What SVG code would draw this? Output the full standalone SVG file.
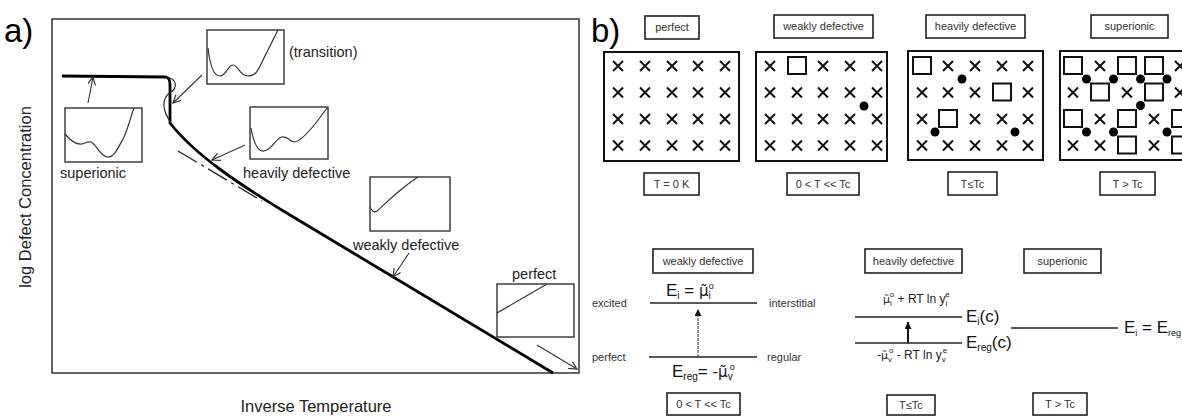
<svg xmlns="http://www.w3.org/2000/svg" xmlns:xlink="http://www.w3.org/1999/xlink" width="1182" height="416" viewBox="0 0 1182 416">
<style>
text{font-family:"Liberation Sans",Arial,sans-serif;fill:#222}
.big{font-size:33px;fill:#000}
.lab{font-size:14.5px}
.axis{font-size:16.5px}
.box{fill:none;stroke:#222;stroke-width:1.6}
.grid{fill:none;stroke:#111;stroke-width:2}
.inset{fill:none;stroke:#333;stroke-width:1.4}
.icurve{fill:none;stroke:#333;stroke-width:1.2}
.tag{font-size:11px;fill:#333;text-anchor:middle}
.small{font-size:11px;fill:#333}
.lvl{stroke:#222;stroke-width:1.5}
.math{font-size:17px;fill:#111}
.mth{font-size:12px;fill:#222}
.mu{font-family:"DejaVu Sans",sans-serif}
.arr{fill:none;stroke:#333;stroke-width:1.1}
</style>
<defs>
<marker id="vh" markerWidth="10" markerHeight="10" refX="8" refY="4" orient="auto" markerUnits="userSpaceOnUse">
<path d="M0,0 L8,4 L0,8" fill="none" stroke="#333" stroke-width="1.2"/>
</marker>
<marker id="th" markerWidth="10" markerHeight="10" refX="7" refY="3.5" orient="auto" markerUnits="userSpaceOnUse">
<path d="M0,0 L7,3.5 L0,7 z" fill="#111"/>
</marker>
<path id="x" d="M-5,-5 L5,5 M5,-5 L-5,5" stroke="#111" stroke-width="2" fill="none"/>
<rect id="sq" x="-9" y="-8.5" width="18" height="17" fill="none" stroke="#111" stroke-width="2"/>
<circle id="dot" r="4.5" fill="#000"/>
</defs>
<rect width="1182" height="416" fill="#fff"/>

<g id="panel-a">
<text class="big" x="4" y="42">a)</text>
<rect x="52" y="19" width="527" height="354" fill="none" stroke="#333" stroke-width="1.5"/>
<text class="axis" transform="translate(31,197) rotate(-90)" text-anchor="middle">log Defect Concentration</text>
<text class="axis" x="316" y="412" text-anchor="middle">Inverse Temperature</text>
<path d="M62,76 L166,77 Q170,78 170,85 L170,123 C195,155 240,185 290,215 L553,373" fill="none" stroke="#000" stroke-width="2.8"/>
<path d="M166,77 C178,79 177,88 171,92 C161,98 162,110 171,123" fill="none" stroke="#222" stroke-width="1.1"/>
<path d="M178,151 L262,201" fill="none" stroke="#222" stroke-width="1.3" stroke-dasharray="22,5,3,5"/>
</g>

<g id="inset-superionic">
<rect class="inset" x="65" y="108" width="77" height="54"/>
<path class="icurve" d="M65,134 C70,140 76,145 82,144 C86,143 88,141 91,142 C96,144 100,156 107,157 C114,158 118,148 124,137 C128,128 131,116 134,108"/>
<text class="lab" x="60" y="178">superionic</text>
</g>
<g id="inset-transition">
<rect class="inset" x="207" y="30" width="77" height="54"/>
<path class="icurve" d="M208,48 C210,66 214,76 220,76 C226,76 228,65 233,65 C238,65 240,76 248,76 C256,76 258,70 262,62 C268,50 273,40 278,30"/>
<text class="lab" x="289" y="57">(transition)</text>
</g>
<g id="inset-heavily">
<rect class="inset" x="250" y="107" width="78" height="52"/>
<path class="icurve" d="M251,128 C254,145 258,152 264,151 C272,150 276,138 282,137 C288,136 290,142 294,142 C302,142 315,125 327,108"/>
<text class="lab" x="243" y="178">heavily defective</text>
</g>
<g id="inset-weakly">
<rect class="inset" x="370" y="177" width="80" height="54"/>
<path class="icurve" d="M370,207 C372,211 374,213 377,211 C385,204 398,190 418,177"/>
<text class="lab" x="353" y="250">weakly defective</text>
</g>
<g id="inset-perfect">
<rect class="inset" x="497" y="284" width="77" height="53"/>
<path class="icurve" d="M497,313 L547,284"/>
<text class="lab" x="512" y="279">perfect</text>
</g>

<g id="connectors">
<path class="arr" d="M88,103 L93,77" marker-end="url(#vh)"/>
<path class="arr" d="M202,75 L173,103" marker-end="url(#vh)"/>
<path class="arr" d="M245,145 L212,160" marker-end="url(#vh)"/>
<path class="arr" d="M409,253 L393,277" marker-end="url(#vh)"/>
<path class="arr" d="M537,345 L577,369" marker-end="url(#vh)"/>
<path d="M698,357 L698,309" stroke="#333" stroke-width="1" stroke-dasharray="3,1" marker-end="url(#th)"/>
<path d="M908,343 L908,322" stroke="#111" stroke-width="2" marker-end="url(#th)"/>
</g>

<text class="big" x="591" y="42">b)</text>

<g id="grid-perfect">
<rect class="box" x="645" y="16" width="54" height="23"/>
<text class="tag" x="672" y="31">perfect</text>
<rect class="grid" x="604" y="52" width="135" height="109"/>
<use href="#x" x="618" y="66"/><use href="#x" x="645" y="66"/><use href="#x" x="672" y="66"/><use href="#x" x="698" y="66"/><use href="#x" x="725" y="66"/>
<use href="#x" x="618" y="92.5"/><use href="#x" x="645" y="92.5"/><use href="#x" x="672" y="92.5"/><use href="#x" x="698" y="92.5"/><use href="#x" x="725" y="92.5"/>
<use href="#x" x="618" y="119"/><use href="#x" x="645" y="119"/><use href="#x" x="672" y="119"/><use href="#x" x="698" y="119"/><use href="#x" x="725" y="119"/>
<use href="#x" x="618" y="145.5"/><use href="#x" x="645" y="145.5"/><use href="#x" x="672" y="145.5"/><use href="#x" x="698" y="145.5"/><use href="#x" x="725" y="145.5"/>
<rect class="box" x="644" y="173" width="55" height="22"/>
<text class="tag" x="671.5" y="188">T = 0 K</text>
</g>

<g id="grid-weakly">
<rect class="box" x="774" y="15" width="99" height="23"/>
<text class="tag" x="823.5" y="30">weakly defective</text>
<rect class="grid" x="756" y="52" width="131" height="109"/>
<use href="#x" x="770" y="66"/><use href="#sq" x="797" y="65.5"/><use href="#x" x="823" y="66"/><use href="#x" x="850" y="66"/><use href="#x" x="877" y="66"/>
<use href="#x" x="770" y="92.5"/><use href="#x" x="797" y="92.5"/><use href="#x" x="823" y="92.5"/><use href="#x" x="850" y="92.5"/><use href="#x" x="877" y="92.5"/>
<use href="#x" x="770" y="119"/><use href="#x" x="797" y="119"/><use href="#x" x="823" y="119"/><use href="#x" x="850" y="119"/><use href="#x" x="877" y="119"/>
<use href="#x" x="770" y="145.5"/><use href="#x" x="797" y="145.5"/><use href="#x" x="823" y="145.5"/><use href="#x" x="850" y="145.5"/><use href="#x" x="877" y="145.5"/>
<use href="#dot" x="864" y="106"/>
<rect class="box" x="787" y="173" width="72" height="22"/>
<text class="tag" x="823" y="188">0 &lt; T &lt;&lt; Tc</text>
</g>

<g id="grid-heavily">
<rect class="box" x="926" y="15" width="99" height="23"/>
<text class="tag" x="975.5" y="30">heavily defective</text>
<rect class="grid" x="908" y="51" width="135" height="109"/>
<use href="#sq" x="922" y="65.5"/><use href="#x" x="948" y="66"/><use href="#x" x="975" y="66"/><use href="#x" x="1002" y="66"/><use href="#x" x="1028" y="66"/>
<use href="#x" x="922" y="92.5"/><use href="#x" x="948" y="92.5"/><use href="#x" x="975" y="92.5"/><use href="#sq" x="1002" y="92"/><use href="#x" x="1028" y="92.5"/>
<use href="#x" x="922" y="119"/><use href="#sq" x="948" y="118.5"/><use href="#x" x="975" y="119"/><use href="#x" x="1002" y="119"/><use href="#x" x="1028" y="119"/>
<use href="#x" x="922" y="145.5"/><use href="#x" x="948" y="145.5"/><use href="#x" x="975" y="145.5"/><use href="#x" x="1002" y="145.5"/><use href="#x" x="1028" y="145.5"/>
<use href="#dot" x="962" y="79"/><use href="#dot" x="935" y="132"/><use href="#dot" x="1015" y="132"/>
<rect class="box" x="948" y="172" width="49" height="23"/>
<text class="tag" x="972.5" y="188">T≤Tc</text>
</g>

<g id="grid-superionic">
<rect class="box" x="1091" y="15" width="77" height="23"/>
<text class="tag" x="1129.5" y="30">superionic</text>
<rect class="grid" x="1060" y="51" width="135" height="109"/>
<use href="#sq" x="1073" y="65.5"/><use href="#x" x="1100" y="66"/><use href="#sq" x="1127" y="65.5"/><use href="#sq" x="1154" y="65.5"/><use href="#x" x="1180" y="66"/>
<use href="#x" x="1073" y="92.5"/><use href="#sq" x="1100" y="92"/><use href="#x" x="1127" y="92.5"/><use href="#sq" x="1154" y="92"/><use href="#x" x="1180" y="92.5"/>
<use href="#sq" x="1073" y="118.5"/><use href="#x" x="1100" y="119"/><use href="#sq" x="1127" y="118.5"/><use href="#x" x="1154" y="119"/><use href="#sq" x="1181" y="118.5"/>
<use href="#x" x="1073" y="145.5"/><use href="#x" x="1100" y="145.5"/><use href="#sq" x="1127" y="145"/><use href="#x" x="1154" y="145.5"/><use href="#sq" x="1181" y="145"/>
<use href="#dot" x="1086.5" y="79"/><use href="#dot" x="1113.5" y="79"/><use href="#dot" x="1140.5" y="79"/><use href="#dot" x="1167" y="79"/>
<use href="#dot" x="1140.5" y="105.5"/>
<use href="#dot" x="1086.5" y="132"/><use href="#dot" x="1113.5" y="132"/><use href="#dot" x="1167" y="132"/>
<rect class="box" x="1100" y="172" width="55" height="23"/>
<text class="tag" x="1127.5" y="188">T &gt; Tc</text>
</g>

<g id="levels-weakly">
<rect class="box" x="653" y="249" width="100" height="24"/>
<text class="tag" x="703" y="265">weakly defective</text>
<text class="math" x="666" y="296">E<tspan font-size="10" dy="3">i</tspan><tspan dy="-3"> = </tspan><tspan class="mu" font-size="15">μ̃</tspan><tspan font-size="10" dy="3">i</tspan><tspan font-size="9" dx="-2" dy="-10">o</tspan></text>
<line class="lvl" x1="650" y1="303" x2="757" y2="303"/>
<line class="lvl" x1="649" y1="357" x2="757" y2="357"/>
<text class="small" x="592" y="307">excited</text>
<text class="small" x="769" y="307">interstitial</text>
<text class="small" x="592" y="361">perfect</text>
<text class="small" x="767" y="361">regular</text>
<text class="math" x="672" y="377">E<tspan font-size="10" dy="3">reg</tspan><tspan dy="-3">= -</tspan><tspan class="mu" font-size="15">μ̃</tspan><tspan font-size="10" dy="3">v</tspan><tspan font-size="9" dx="-3" dy="-10">o</tspan></text>
<rect class="box" x="667" y="393" width="73" height="22"/>
<text class="tag" x="703.5" y="408">0 &lt; T &lt;&lt; Tc</text>
</g>

<g id="levels-heavily">
<rect class="box" x="865" y="249" width="97" height="24"/>
<text class="tag" x="913.5" y="265">heavily defective</text>
<text class="mth" x="883" y="303"><tspan class="mu" font-size="11">μ̃</tspan><tspan font-size="8" dy="3">i</tspan><tspan font-size="8" dx="-2" dy="-9">o</tspan><tspan dy="6"> + RT ln y</tspan><tspan font-size="8" dy="3">i</tspan><tspan font-size="8" dx="-2" dy="-9">e</tspan></text>
<line class="lvl" x1="855" y1="317" x2="962" y2="317"/>
<line class="lvl" x1="855" y1="343" x2="962" y2="343"/>
<text class="math" x="966" y="322">E<tspan font-size="10" dy="3">i</tspan><tspan dy="-3">(c)</tspan></text>
<text class="math" x="966" y="348">E<tspan font-size="10" dy="3">reg</tspan><tspan dy="-3">(c)</tspan></text>
<text class="mth" x="877" y="359">-<tspan class="mu" font-size="11">μ̃</tspan><tspan font-size="8" dy="3">v</tspan><tspan font-size="8" dx="-3" dy="-9">o</tspan><tspan dy="6"> - RT ln y</tspan><tspan font-size="8" dy="3">v</tspan><tspan font-size="8" dx="-3" dy="-9">e</tspan></text>
<rect class="box" x="887" y="395" width="48" height="20"/>
<text class="tag" x="911" y="409">T≤Tc</text>
</g>

<g id="levels-superionic">
<rect class="box" x="1024" y="249" width="77" height="24"/>
<text class="tag" x="1062.5" y="265">superionic</text>
<line class="lvl" x1="1011" y1="328" x2="1118" y2="328"/>
<text class="math" x="1124" y="333" font-size="16">E<tspan font-size="9" dy="3">i</tspan><tspan dy="-3"> = E</tspan><tspan font-size="9" dy="3">reg</tspan></text>
<rect class="box" x="1033" y="393" width="54" height="22"/>
<text class="tag" x="1060" y="408">T &gt; Tc</text>
</g>
</svg>
